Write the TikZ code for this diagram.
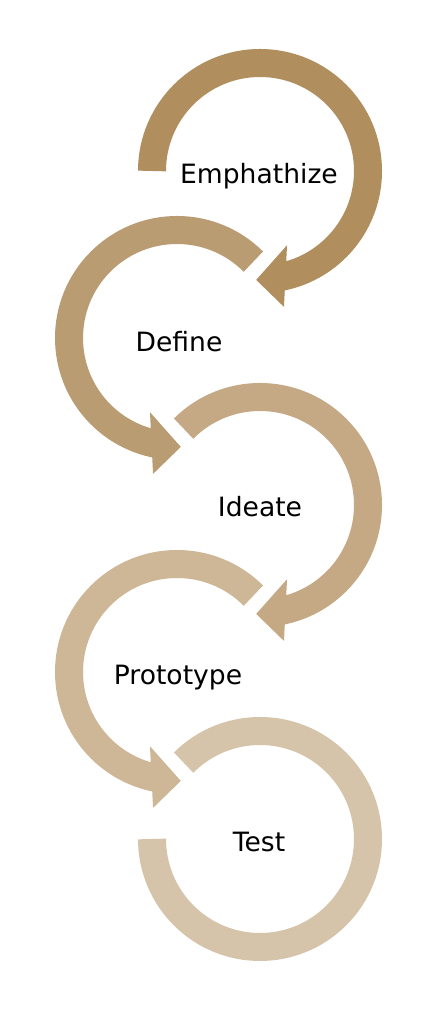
\documentclass[tikz,border=0pt]{standalone}
\usepackage{fontspec}
\setmainfont{DejaVu Sans}
\usepackage{tikz}
\usetikzlibrary{positioning,calc}
\definecolor{stepa}{RGB}{176,142,94}
\definecolor{stepb}{RGB}{186,156,114}
\definecolor{stepc}{RGB}{196,169,132}
\definecolor{stepd}{RGB}{205,183,151}
\definecolor{stepe}{RGB}{214,196,170}
\tikzstyle{band} = [line width=0.7cm]
\tikzstyle{lbl} = [anchor=base, inner sep=0pt, text=black, font=\fontsize{18.9}{22}\selectfont]
\begin{document}
\begin{tikzpicture}[x=0.025cm, y=0.025cm]
        \fill[white] (0,0) rectangle (439,1024);
        \useasboundingbox (0,0) rectangle (439,1024);
        \coordinate (ca) at (260,853);
        \coordinate (cb) at (177,686);
        \coordinate (cc) at (260,519);
        \coordinate (cd) at (177,352);
        \coordinate (ce) at (260,185);
        % Emphathize
        \draw[band, stepa] ($(ca)+(180:108)$) arc[start angle=180, end angle=-78.5, radius=108];
        \fill[stepa, shift={(ca)}] (-70:79) -- (-80:138) -- (-92:109) -- cycle;
        % Define
        \draw[band, stepb] ($(cb)+(45:108)$) arc[start angle=45, end angle=258.5, radius=108];
        \fill[stepb, shift={(cb)}] (250:79) -- (260:138) -- (272:109) -- cycle;
        % Ideate
        \draw[band, stepc] ($(cc)+(135:108)$) arc[start angle=135, end angle=-78.5, radius=108];
        \fill[stepc, shift={(cc)}] (-70:79) -- (-80:138) -- (-92:109) -- cycle;
        % Prototype
        \draw[band, stepd] ($(cd)+(45:108)$) arc[start angle=45, end angle=258.5, radius=108];
        \fill[stepd, shift={(cd)}] (250:79) -- (260:138) -- (272:109) -- cycle;
        % Test
        \draw[band, stepe] ($(ce)+(135:108)$) arc[start angle=135, end angle=-180, radius=108];
        \node[lbl] (emph) at (259,840) {Emphathize};
        \node[lbl] (def) at (179,672) {Define};
        \node[lbl] (idea) at (260,507) {Ideate};
        \node[lbl] (proto) at (178,339) {Prototype};
        \node[lbl] (test) at (259,172) {Test};
    \end{tikzpicture}
\end{document}
